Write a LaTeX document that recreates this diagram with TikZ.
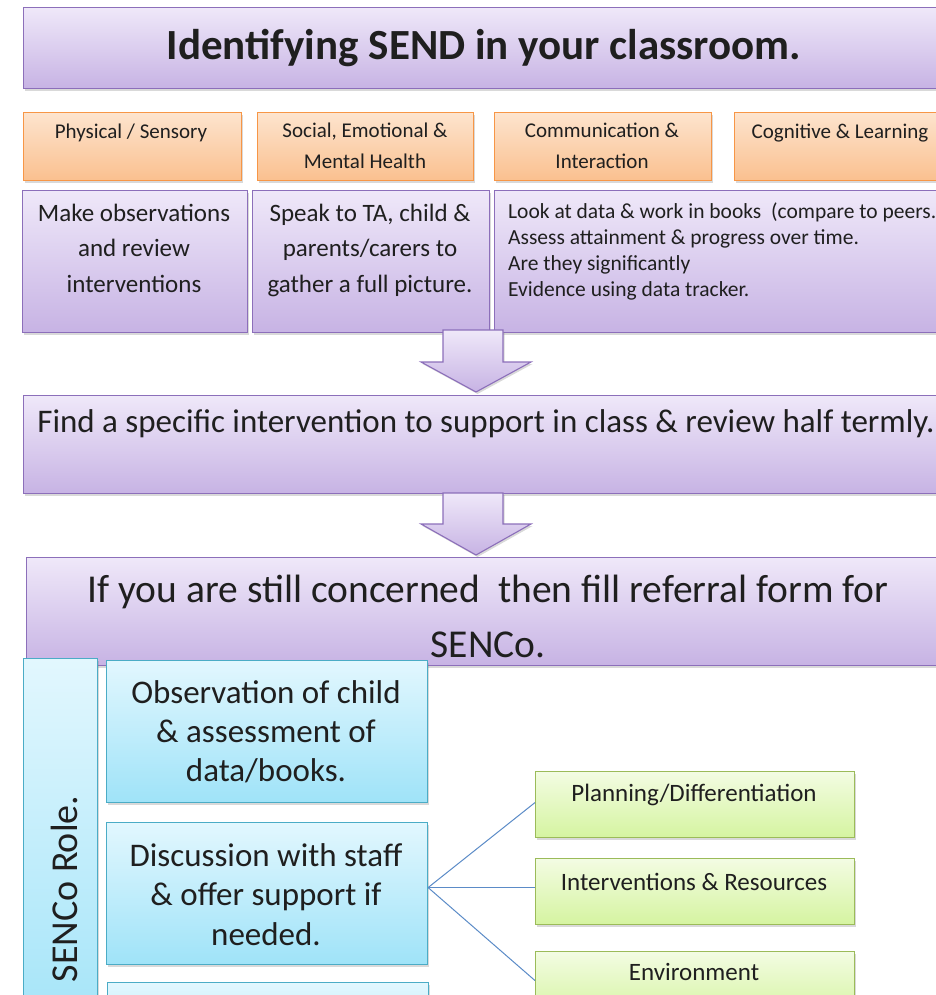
\documentclass[tikz,border=0pt]{standalone}
\usepackage{fontspec}
\setmainfont{Carlito}
\usetikzlibrary{shadows}
\definecolor{ptop}{HTML}{EFE8F9}
\definecolor{pbot}{HTML}{C7B3E4}
\definecolor{pline}{HTML}{8C6FBA}
\definecolor{otop}{HTML}{FDE4CE}
\definecolor{obot}{HTML}{FAC08F}
\definecolor{oline}{HTML}{F79646}
\definecolor{btop}{HTML}{E2F7FE}
\definecolor{bbot}{HTML}{9FE3F8}
\definecolor{bline}{HTML}{4BACC6}
\definecolor{gtop}{HTML}{F3FCE3}
\definecolor{gbot}{HTML}{D5F4A0}
\definecolor{gline}{HTML}{9BBB59}
\definecolor{connc}{HTML}{5B8BC7}
\definecolor{ink}{HTML}{1F1F1F}
\tikzset{
  basebox/.style={rectangle, inner sep=0pt, anchor=north west, line width=1.1pt,
    drop shadow={shadow xshift=1.5pt, shadow yshift=-2pt, opacity=0.3}},
  pbox/.style={basebox, draw=pline, top color=ptop, bottom color=pbot},
  obox/.style={basebox, draw=oline, top color=otop, bottom color=obot},
  bbox/.style={basebox, draw=bline, top color=btop, bottom color=bbot},
  gbox/.style={basebox, draw=gline, top color=gtop, bottom color=gbot},
  blockarrow/.style={draw=pline, line width=1.1pt, top color=ptop, bottom color=pbot,
    line join=miter, drop shadow={shadow xshift=1.5pt, shadow yshift=-2pt, opacity=0.3}},
  txt/.style={text=ink, inner sep=0pt, anchor=base, align=flush center},
  ltxt/.style={text=ink, inner sep=0pt, anchor=base west, align=flush left},
  fan/.style={draw=connc, line width=1pt},
}
\begin{document}
\begin{tikzpicture}[x=1pt, y=-1pt]
\useasboundingbox (0,0) rectangle (936,995);
\clip (0,0) rectangle (936,995);

% title
\node[pbox, minimum width=925pt, minimum height=81pt] (title) at (23,7) {};
\node[txt, font=\bfseries\fontsize{43pt}{50pt}\selectfont] (titletxt) at (484,60) {Identifying SEND in your classroom.};

% orange categories
\node[obox, minimum width=218pt, minimum height=68pt] (o1) at (23,112) {};
\node[obox, minimum width=216pt, minimum height=68pt] (o2) at (257,112) {};
\node[obox, minimum width=217pt, minimum height=68pt] (o3) at (494,112) {};
\node[obox, minimum width=215pt, minimum height=68pt] (o4) at (734,112) {};
\node[txt, text width=210pt, font=\fontsize{21pt}{31pt}\selectfont] (o1t) at (131,139) {Physical / Sensory};
\node[txt, text width=210pt, font=\fontsize{21pt}{31pt}\selectfont] (o2t) at (365,138) {Social, Emotional \&\\Mental Health};
\node[txt, text width=210pt, font=\fontsize{21pt}{31pt}\selectfont] (o3t) at (602,138) {Communication \&\\Interaction};
\node[txt, text width=210pt, font=\fontsize{21pt}{31pt}\selectfont] (o4t) at (840,139) {Cognitive \& Learning};

% purple row
\node[pbox, minimum width=225pt, minimum height=142pt] (p1) at (22,190) {};
\node[pbox, minimum width=237pt, minimum height=142pt] (p2) at (252,190) {};
\node[pbox, minimum width=460pt, minimum height=142pt] (p3) at (494,190) {};
\node[txt, text width=222pt, font=\fontsize{25pt}{35.5pt}\selectfont] (p1t) at (134,221) {Make observations\\and review\\interventions};
\node[txt, text width=234pt, font=\fontsize{25pt}{35.5pt}\selectfont] (p2t) at (370,221) {Speak to TA, child \&\\parents/carers to\\gather a full picture.};
\node[ltxt, text width=440pt, font=\fontsize{21.5pt}{26pt}\selectfont] (p3t) at (508,218) {Look at data \& work in books\ \ (compare to peers.\\Assess attainment \& progress over time.\\Are they significantly\\Evidence using data tracker.};

% arrow 1
\path[blockarrow] (443,330) -- (503,330) -- (503,362) -- (531,362) -- (476,392) -- (421,362) -- (443,362) -- cycle;

% find box
\node[pbox, minimum width=925pt, minimum height=98pt] (find) at (23,395) {};
\node[txt, font=\fontsize{33pt}{38pt}\selectfont] (findt) at (486,432) {Find a specific intervention to support in class \& review half termly.};

% arrow 2
\path[blockarrow] (443,493) -- (503,493) -- (503,524) -- (531,524) -- (476,555) -- (421,524) -- (443,524) -- cycle;

% referral box
\node[pbox, minimum width=925pt, minimum height=108pt] (ref) at (26,557) {};
\node[txt, text width=900pt, font=\fontsize{39.5pt}{55pt}\selectfont] (reft) at (488,602) {If you are still concerned\ \ then fill referral form for\\SENCo.};

% SENCo role
\node[bbox, minimum width=74pt, minimum height=400pt] (senco) at (23,658) {};
\node[txt, rotate=90, font=\fontsize{38pt}{44pt}\selectfont] (sencot) at (77,889) {SENCo Role.};

\node[bbox, minimum width=321pt, minimum height=142pt] (b1) at (106,660) {};
\node[bbox, minimum width=321pt, minimum height=142pt] (b2) at (106,822) {};
\node[bbox, minimum width=321pt, minimum height=100pt] (b3) at (107,982) {};
\node[txt, text width=315pt, font=\fontsize{33pt}{39pt}\selectfont] (b1t) at (266,703) {Observation of child\\\& assessment of\\data/books.};
\node[txt, text width=315pt, font=\fontsize{33pt}{39.5pt}\selectfont] (b2t) at (266,866) {Discussion with staff\\\& offer support if\\needed.};

% green boxes
\node[gbox, minimum width=319pt, minimum height=66pt] (g1) at (535,771) {};
\node[gbox, minimum width=319pt, minimum height=66pt] (g2) at (535,858) {};
\node[gbox, minimum width=319pt, minimum height=66pt] (g3) at (535,951) {};
\node[txt, font=\fontsize{25pt}{30pt}\selectfont] (g1t) at (694,801) {Planning/Differentiation};
\node[txt, font=\fontsize{25pt}{30pt}\selectfont] (g2t) at (694,890) {Interventions \& Resources};
\node[txt, font=\fontsize{25pt}{30pt}\selectfont] (g3t) at (694,980) {Environment};

% fan connectors
\draw[fan] ([yshift=6pt]b2.east) -- ([yshift=2pt]g1.west);
\draw[fan] ([yshift=6pt]b2.east) -- ([yshift=4pt]g2.west);
\draw[fan] ([yshift=6pt]b2.east) -- ([yshift=4pt]g3.west);
\end{tikzpicture}
\end{document}
